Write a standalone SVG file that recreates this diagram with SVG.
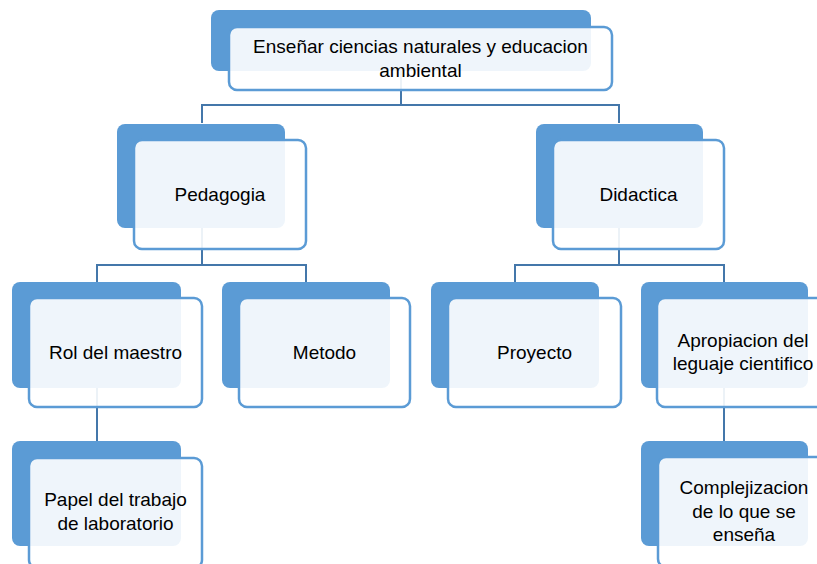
<svg xmlns="http://www.w3.org/2000/svg" width="817" height="564" viewBox="0 0 817 564">
<style>
.back{fill:#5B9BD5;}
.front{fill:#ffffff;fill-opacity:0.9;stroke:#5B9BD5;stroke-width:2.5;}
.conn{fill:none;stroke:#4477AA;stroke-width:2;}
text{font-family:"Liberation Sans",Arial,sans-serif;font-size:19px;fill:#000;text-anchor:middle;}
</style>
<rect width="817" height="564" fill="#fff"/>
<g id="connectors">
<path class="conn" d="M401,70 V105 M202,123 V105 H619 V123"/>
<path class="conn" d="M202,228 V265 M97,282 V265 H306 V282"/>
<path class="conn" d="M619,228 V265 M515,282 V265 H724 V282"/>
<path class="conn" d="M97,388 V441"/>
<path class="conn" d="M724,388 V441"/>
</g>
<g id="n-root">
<rect class="back" x="211" y="10" width="380" height="61" rx="8"/>
<rect class="front" x="229" y="27" width="383" height="63" rx="8"/>
<text x="420.5" y="53">Enseñar ciencias naturales y educacion</text>
<text x="420.5" y="77">ambiental</text>
</g>
<g id="n-pedagogia">
<rect class="back" x="117" y="124" width="168" height="104" rx="8"/>
<rect class="front" x="134" y="140" width="172" height="109" rx="8"/>
<text x="220" y="201">Pedagogia</text>
</g>
<g id="n-didactica">
<rect class="back" x="536" y="124" width="167" height="104" rx="8"/>
<rect class="front" x="553" y="140" width="171" height="109" rx="8"/>
<text x="638.5" y="201">Didactica</text>
</g>
<g id="n-rol">
<rect class="back" x="12" y="282" width="169" height="106" rx="8"/>
<rect class="front" x="29" y="298" width="173" height="109" rx="8"/>
<text x="115.5" y="359">Rol del maestro</text>
</g>
<g id="n-metodo">
<rect class="back" x="222" y="282" width="168" height="106" rx="8"/>
<rect class="front" x="239" y="298" width="171" height="109" rx="8"/>
<text x="324.5" y="359">Metodo</text>
</g>
<g id="n-proyecto">
<rect class="back" x="431" y="282" width="168" height="106" rx="8"/>
<rect class="front" x="448" y="298" width="173" height="109" rx="8"/>
<text x="534.5" y="359">Proyecto</text>
</g>
<g id="n-apropiacion">
<rect class="back" x="641" y="282" width="167" height="106" rx="8"/>
<rect class="front" x="657" y="298" width="172" height="109" rx="8"/>
<text x="743" y="347">Apropiacion del</text>
<text x="743" y="370">leguaje cientifico</text>
</g>
<g id="n-papel">
<rect class="back" x="12" y="441" width="169" height="105" rx="8"/>
<rect class="front" x="29" y="458" width="173" height="110" rx="8"/>
<text x="115.5" y="506">Papel del trabajo</text>
<text x="115.5" y="530">de laboratorio</text>
</g>
<g id="n-complejizacion">
<rect class="back" x="641" y="441" width="167" height="105" rx="8"/>
<rect class="front" x="658" y="457" width="172" height="110" rx="8"/>
<text x="744" y="494">Complejizacion</text>
<text x="744" y="518">de lo que se</text>
<text x="744" y="541">enseña</text>
</g>
</svg>
